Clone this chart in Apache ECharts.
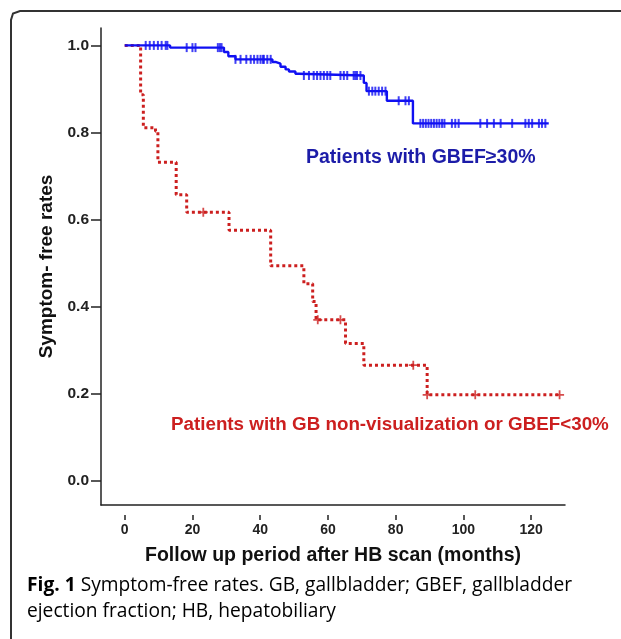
<!DOCTYPE html>
<html>
<head>
<meta charset="utf-8">
<script src="https://cdn.jsdelivr.net/npm/echarts@6/dist/echarts.min.js"></script>
<style>
html,body{margin:0;padding:0;background:#fff;}
#c{width:621px;height:639px;}
</style>
</head>
<body>
<div id="c"></div>
<script>
// ---- Data ----
// Blue group (GBEF >= 30%): step times (months) and survival values
var blueTimes  = [0, 13.4, 29.3, 30.6, 32.7, 43.6, 44.5, 46.0, 47.5, 48.5, 50.4, 51.4, 70.6, 71.4, 77.4, 85.1, 125.2];
var blueValues = [1.0, 0.995, 0.985, 0.975, 0.968, 0.962, 0.958, 0.951, 0.945, 0.940, 0.935, 0.931, 0.914, 0.895, 0.873, 0.821, 0.821];
var blueCensored = [6.2, 7.4, 8.6, 9.8, 10.9, 12.1, 12.6, 18.3, 20, 20.9, 27.5, 28.1, 28.6,
  32.7, 34.2, 35.9, 37.2, 38.2, 39.2, 40.1, 40.8, 41.1, 42.1, 43.1,
  52.9, 54.4, 55.8, 56.8, 57.8, 58.8, 59.8, 60.7, 63.7, 64.7, 65.7, 67.6, 68.1, 68.6, 69.6,
  72.1, 73.1, 74, 75, 76, 77, 80.9, 82.9, 83.9,
  87.3, 88.1, 88.9, 89.7, 90.5, 91.3, 92.1, 92.9, 93.7, 94.4, 96.6, 97.6, 98.6,
  105, 107, 109, 111, 114.4, 118.3, 119.3, 120.3, 122.3, 123.2, 124.2];

// Red group (GB non-visualization or GBEF < 30%)
var redTimes  = [0, 4.7, 5.5, 9.1, 9.8, 15.2, 18.3, 30.8, 43.1, 52.9, 55.5, 56.5, 65.2, 70.6, 89.3, 128.4];
var redValues = [1.0, 0.887, 0.811, 0.803, 0.732, 0.657, 0.617, 0.576, 0.494, 0.453, 0.412, 0.370, 0.316, 0.266, 0.198, 0.198];
var redCensored = [23.2, 57, 63.7, 85.2, 89.3, 103.5, 128.4];

var xTicks = [0, 20, 40, 60, 80, 100, 120];
var yTicks = [0.0, 0.2, 0.4, 0.6, 0.8, 1.0];

var blueLabel = 'Patients with GBEF\u226530%';
var redLabel = 'Patients with GB non-visualization or GBEF<30%';
var xName = 'Follow up period after HB scan (months)';
var yName = 'Symptom- free rates';
var captionBold = 'Fig. 1';
var captionLine1 = ' Symptom-free rates. GB, gallbladder; GBEF, gallbladder';
var captionLine2 = 'ejection fraction; HB, hepatobiliary';

// ---- helpers ----
function pairs(ts, vs) { return ts.map(function (t, i) { return [t, vs[i]]; }); }
function stepValueAt(ts, vs, t) {
  var v = vs[0];
  for (var i = 0; i < ts.length; i++) { if (ts[i] <= t) v = vs[i]; }
  return v;
}
function censorPts(cs, ts, vs) { return cs.map(function (t) { return [t, stepValueAt(ts, vs, t)]; }); }

var AX = 'Liberation Sans, Arial, sans-serif';
var PLUS = 'path://M4,0 L6,0 L6,4 L10,4 L10,6 L6,6 L6,10 L4,10 L4,6 L0,6 L0,4 L4,4 Z';
var chart = echarts.init(document.getElementById('c'), null, {renderer: 'canvas'});

var option = {
  animation: false,
  backgroundColor: '#fff',
  grid: {left: 101, top: 28, right: 56, bottom: 134, containLabel: false},
  xAxis: [
    {
      type: 'value', min: -7, max: 130, position: 'bottom',
      axisLine: {show: true, onZero: false, lineStyle: {color: '#222', width: 1.5}},
      axisTick: {show: false}, axisLabel: {show: false}, splitLine: {show: false}
    },
    {
      type: 'value', min: -7, max: 130, position: 'bottom', offset: 10,
      axisLine: {show: false, onZero: false},
      axisTick: {show: true, length: 5, customValues: xTicks, lineStyle: {color: '#222', width: 1.5}},
      axisLabel: {show: true, customValues: xTicks, margin: 8, fontFamily: AX, fontWeight: 'bold', fontSize: 14, color: '#222'},
      splitLine: {show: false},
      name: xName, nameLocation: 'middle', nameGap: 31,
      nameTextStyle: {fontFamily: AX, fontWeight: 'bold', fontSize: 19.5, color: '#111'}
    }
  ],
  yAxis: {
    type: 'value', min: -0.055, max: 1.04,
    axisLine: {show: true, onZero: false, lineStyle: {color: '#222', width: 1.5}},
    axisTick: {show: true, length: 10, customValues: yTicks, lineStyle: {color: '#222', width: 1.5}},
    axisLabel: {show: true, customValues: yTicks, margin: 12, fontFamily: AX, fontWeight: 'bold', fontSize: 15.5, color: '#222',
      formatter: function (v) { return v.toFixed(1); }},
    splitLine: {show: false},
    name: yName, nameLocation: 'middle', nameGap: 44, nameRotate: 90,
    nameTextStyle: {fontFamily: AX, fontWeight: 'bold', fontSize: 19, color: '#111'}
  },
  series: [
    {
      type: 'line', name: 'blue', step: 'end', symbol: 'none', xAxisIndex: 0,
      data: pairs(blueTimes, blueValues),
      lineStyle: {color: '#1010f2', width: 2.4}, z: 3
    },
    {
      type: 'scatter', xAxisIndex: 0, symbol: 'rect', symbolSize: [2, 9],
      itemStyle: {color: '#1010f2'}, data: censorPts(blueCensored, blueTimes, blueValues), z: 4
    },
    {
      type: 'line', name: 'red', step: 'end', symbol: 'none', xAxisIndex: 0,
      data: pairs(redTimes, redValues),
      lineStyle: {color: '#cc1f1f', width: 3, type: [3, 3], cap: 'butt'}, z: 2
    },
    {
      type: 'scatter', xAxisIndex: 0, symbol: PLUS, symbolSize: [9, 9],
      itemStyle: {color: '#cc1f1f'}, data: censorPts(redCensored, redTimes, redValues), z: 2
    }
  ],
  graphic: [
    {type: 'text', left: 306, top: 148, style: {text: blueLabel, font: 'bold 19.5px ' + AX, fill: '#1c1ca8'}},
    {type: 'text', left: 171, top: 415, style: {text: redLabel, font: 'bold 18.8px ' + AX, fill: '#cc1f1f'}},
    {type: 'polyline', silent: true, shape: {points: [[11, 639], [11, 20], [13, 13.5], [20, 11], [621, 11]]},
      style: {stroke: '#333', lineWidth: 2, fill: null}},
    {type: 'text', left: 27, top: 576, style: {
      text: '{b|' + captionBold + '}{n|' + captionLine1 + '}\n{n|' + captionLine2 + '}',
      rich: {
        b: {fontFamily: 'Open Sans', fontWeight: 'bold', fontSize: 19.2, color: '#222', lineHeight: 26},
        n: {fontFamily: 'Open Sans', fontSize: 19.2, color: '#333', lineHeight: 26}
      }
    }}
  ]
};
chart.setOption(option);
</script>
</body>
</html>
